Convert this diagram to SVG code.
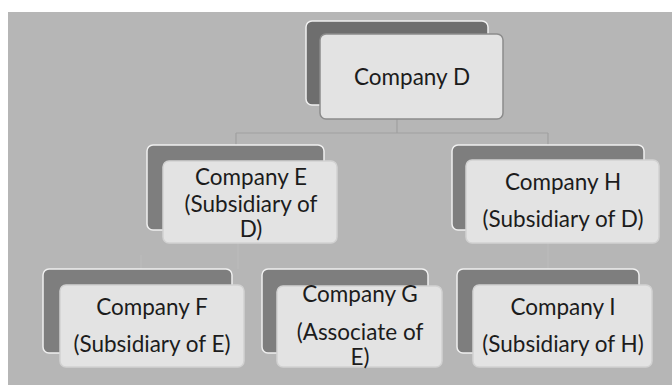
<svg xmlns="http://www.w3.org/2000/svg" width="672" height="385" viewBox="0 0 672 385">
<style>
.bg{fill:#b6b6b6}
.back{fill:#7e7e7e;stroke:#f0f0f0;stroke-width:1.5}
.backd{fill:#6e6e6e;stroke:#f0f0f0;stroke-width:1.5}
.front{fill:#e3e3e3;stroke:#d2d2d2;stroke-width:1.5}
.frontd{fill:#e3e3e3;stroke:#8c8c8c;stroke-width:1.5}
.t{font-family:Lato,"Liberation Sans",sans-serif;font-size:22.5px;fill:#1c1c1c;text-anchor:middle}
.c{fill:none;stroke:#a0a0a0;stroke-width:1.2}
.cf{fill:none;stroke:#bcbcbc;stroke-width:1}
</style>
<rect x="0" y="0" width="672" height="385" fill="#ffffff"/>
<rect class="bg" x="8" y="12" width="664" height="373"/>
<g id="connectors">
<path class="c" d="M397 119 V133 M236 133 H548 M236 133 V145 M548 133 V145"/>
<path class="cf" d="M238 243 V269 M141 255 V269 M548 243 V269"/>
</g>
<g id="nodeD">
<rect class="backd" x="306" y="21" width="182" height="84" rx="6"/>
<rect class="frontd" x="320" y="34" width="183" height="85" rx="6"/>
<text class="t" x="412" y="85">Company D</text>
</g>
<g id="nodeE">
<rect class="back" x="147" y="145" width="177" height="85" rx="6"/>
<rect class="front" x="163" y="161" width="174" height="82" rx="6"/>
<text class="t" x="251" y="185">Company E</text>
<text class="t" x="251" y="212">(Subsidiary of</text>
<text class="t" x="251" y="237">D)</text>
</g>
<g id="nodeH">
<rect class="back" x="452" y="145" width="192" height="85" rx="6"/>
<rect class="front" x="466" y="160" width="193" height="83" rx="6"/>
<text class="t" x="563" y="190">Company H</text>
<text class="t" x="563" y="227">(Subsidiary of D)</text>
</g>
<g id="nodeF">
<rect class="back" x="43" y="269" width="189" height="84" rx="6"/>
<rect class="front" x="60" y="285" width="184" height="82" rx="6"/>
<text class="t" x="152" y="315">Company F</text>
<text class="t" x="152" y="352">(Subsidiary of E)</text>
</g>
<g id="nodeG">
<rect class="back" x="262" y="269" width="166" height="84" rx="6"/>
<rect class="front" x="277" y="286" width="165" height="81" rx="6"/>
<text class="t" x="360" y="302">Company G</text>
<text class="t" x="360" y="340">(Associate of</text>
<text class="t" x="360" y="365">E)</text>
</g>
<g id="nodeI">
<rect class="back" x="457" y="269" width="182" height="84" rx="6"/>
<rect class="front" x="473" y="285" width="179" height="82" rx="6"/>
<text class="t" x="563" y="315">Company I</text>
<text class="t" x="563" y="352">(Subsidiary of H)</text>
</g>
</svg>
